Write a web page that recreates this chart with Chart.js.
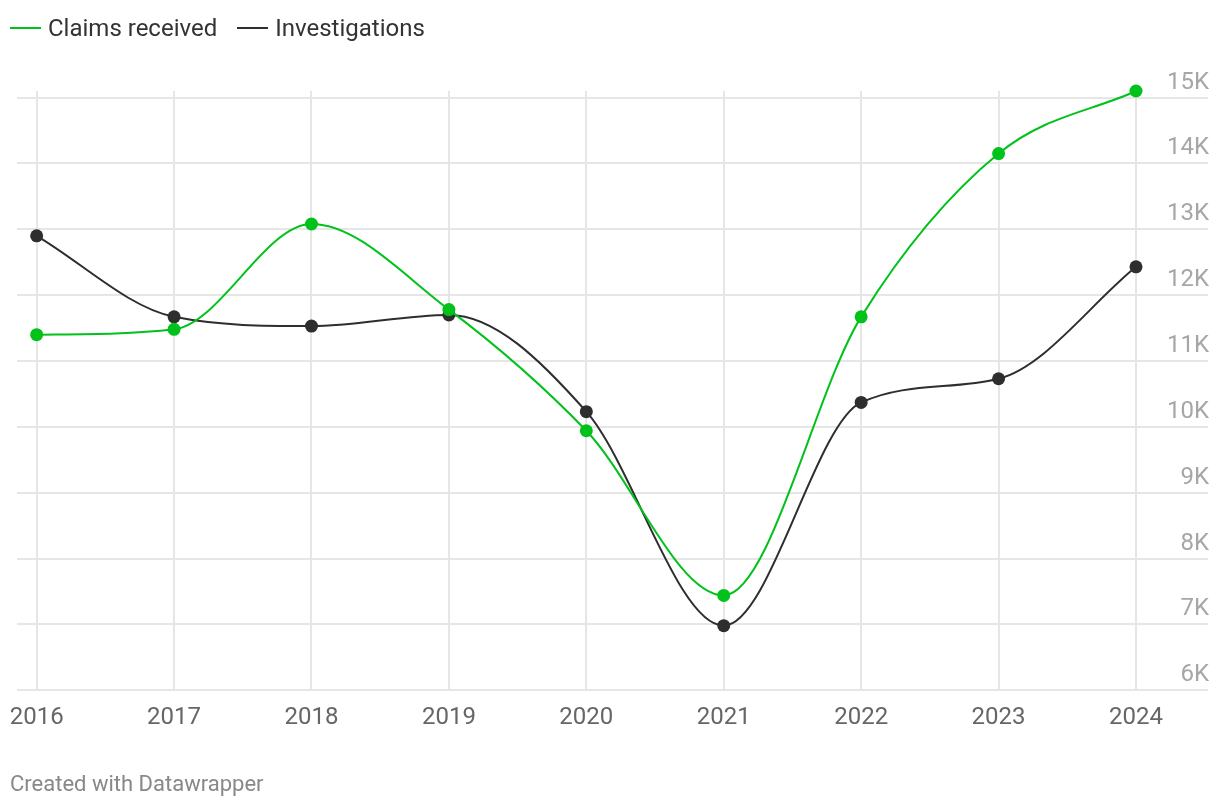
<!DOCTYPE html>
<html>
<head>
<meta charset="utf-8">
<script src="https://cdn.jsdelivr.net/npm/chart.js@4.4.1/dist/chart.umd.min.js"></script>
<style>
  html, body { margin: 0; padding: 0; background: #fff; }
  body { width: 1220px; height: 808px; position: relative; overflow: hidden; font-family: Roboto, sans-serif; }
  #wrap { position: absolute; left: 0; top: 0; width: 1220px; height: 808px; }
  #legend { position: absolute; left: 10px; top: 14px; display: flex; font-size: 24px; color: #333; line-height: 28px; }
  .item { display: flex; align-items: center; margin-right: 20px; }
  .swatch { width: 31px; height: 2px; margin-right: 7px; }
  #credit { position: absolute; left: 10px; top: 771px; font-size: 22px; line-height: 26px; color: #888; }
</style>
</head>
<body>
<div id="wrap"><canvas id="chart"></canvas></div>
<div id="legend"></div>
<div id="credit">Created with Datawrapper</div>
<script>
const years = [2016, 2017, 2018, 2019, 2020, 2021, 2022, 2023, 2024];

const claims = [11400, 11480, 13080, 11780, 9940, 7440, 11670, 14150, 15100];
const investigations = [12900, 11670, 11530, 11700, 10230, 6980, 10370, 10730, 12430];

const yTicks = [6000, 7000, 8000, 9000, 10000, 11000, 12000, 13000, 14000, 15000];

const green = '#00c21a';
const dark = '#2e2e2e';

const series = [
  { label: 'Claims received', values: claims, color: green },
  { label: 'Investigations', values: investigations, color: dark }
];

// legend
const legend = document.getElementById('legend');
series.forEach(s => {
  const item = document.createElement('div');
  item.className = 'item';
  item.innerHTML = '<span class="swatch" style="background:' + s.color + '"></span>' + s.label;
  legend.appendChild(item);
});

const data = {
  datasets: series.map(s => ({
    label: s.label,
    data: years.map((yr, i) => ({ x: yr, y: s.values[i] })),
    borderColor: s.color,
    backgroundColor: s.color,
    borderWidth: 2,
    pointRadius: 6.5,
    pointBorderWidth: 0,
    pointHoverRadius: 6.5,
    cubicInterpolationMode: 'monotone',
    clip: false
  }))
};

const config = {
  type: 'line',
  data: data,
  options: {
    responsive: true,
    maintainAspectRatio: false,
    animation: false,
    layout: { padding: { left: 17, right: 10, top: 91, bottom: 63 } },
    plugins: {
      legend: { display: false },
      tooltip: { enabled: false }
    },
    scales: {
      x: {
        type: 'linear',
        min: 2015.857,
        max: 2024.524,
        afterBuildTicks: axis => { axis.ticks = years.map(v => ({ value: v })); },
        // labels may hang over the edge, don't shrink the plot for them
        afterFit: axis => { axis.paddingLeft = 0; axis.paddingRight = 0; },
        grid: { color: '#e6e6e6', lineWidth: 2, drawTicks: false },
        border: { display: false },
        ticks: {
          padding: 13,
          color: '#666',
          font: { family: 'Roboto', size: 24 },
          callback: v => String(v)
        }
      },
      y: {
        position: 'right',
        min: 6000,
        max: 15100,
        afterBuildTicks: axis => { axis.ticks = yTicks.map(v => ({ value: v })); },
        grid: { color: '#e6e6e6', lineWidth: 2, drawTicks: false },
        border: { display: false },
        ticks: {
          mirror: true,
          padding: 1,
          labelOffset: -15,
          color: '#a6a6a6',
          font: { family: 'Roboto', size: 24 },
          callback: v => (v / 1000) + 'K'
        }
      }
    }
  }
};

const myChart = new Chart(document.getElementById('chart'), config);
</script>
</body>
</html>
